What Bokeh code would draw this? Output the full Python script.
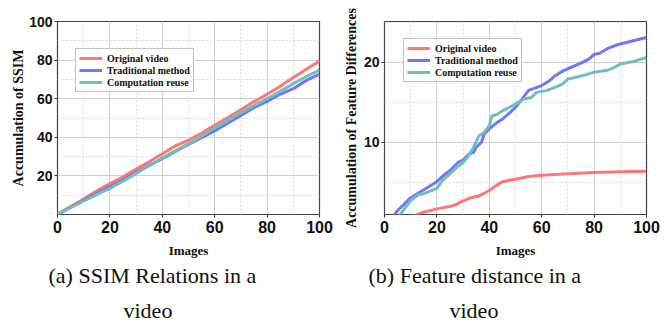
from bokeh.plotting import figure
from bokeh.layouts import row
from bokeh.models import Range1d, FixedTicker, Legend, LegendItem, Title
from bokeh.embed import file_html
from bokeh.resources import INLINE

# ---------------- data ----------------
ssim_x = [0, 5, 10, 15, 20, 25, 30, 35, 40, 45, 50, 55, 60, 65, 70, 75, 80, 85, 90, 95, 100]
ssim_original = [0, 4.0, 8.0, 12.3, 16.0, 19.5, 23.5, 27.3, 31.5, 35.5, 38.5, 42.2, 46.2, 50.2, 54.3, 58.5, 62.3, 66.5, 71.0, 75.3, 79.5]
ssim_traditional = [0, 3.8, 7.3, 11.0, 14.4, 18.0, 21.8, 25.5, 28.9, 32.7, 36.3, 39.8, 43.3, 47.3, 51.3, 55.3, 58.6, 62.3, 65.2, 69.5, 72.8]
ssim_reuse = [0, 3.5, 7.0, 10.3, 13.5, 17.3, 21.2, 25.3, 29.4, 33.0, 36.7, 40.7, 45.0, 49.0, 52.7, 56.5, 60.0, 63.8, 67.8, 71.5, 74.8]

feat_orig_x = [11, 15, 20, 25, 27, 30, 33, 36, 40, 43, 45, 50, 55, 60, 70, 80, 90, 100]
feat_original = [0.8, 1.3, 1.7, 2.0, 2.2, 2.7, 3.1, 3.3, 4.0, 4.7, 5.1, 5.4, 5.75, 5.9, 6.1, 6.25, 6.35, 6.4]

feat_trad_x = [3, 5, 10, 15, 20, 23, 25, 28, 30, 32, 34, 35, 37, 38, 40, 43, 45, 48, 50, 52, 55, 60, 63, 65, 68, 70, 75, 78, 80, 82, 85, 88, 90, 95, 100]
feat_traditional = [0.6, 1.5, 3.1, 4.1, 5.1, 6.0, 6.5, 7.5, 7.8, 8.5, 8.75, 9.4, 10.0, 11.0, 11.7, 12.5, 12.9, 13.75, 14.4, 15.2, 16.5, 17.1, 17.7, 18.3, 18.9, 19.2, 19.9, 20.4, 21.0, 21.1, 21.7, 22.1, 22.3, 22.7, 23.1]

feat_reuse_x = [5, 6, 10, 13, 15, 20, 22, 25, 28, 30, 32, 34, 36, 38, 40, 41, 43, 45, 48, 50, 53, 56, 58, 62, 66, 68, 70, 75, 80, 85, 88, 90, 95, 100]
feat_reuse = [0.6, 1.0, 2.75, 3.5, 3.6, 4.25, 5.2, 6.1, 7.0, 7.5, 8.3, 9.4, 10.8, 11.25, 12.1, 13.3, 13.5, 13.95, 14.45, 14.8, 15.4, 15.6, 16.25, 16.5, 17.0, 17.3, 17.9, 18.3, 18.75, 19.0, 19.4, 19.8, 20.1, 20.6]

series_names = ["Original video", "Traditional method", "Computation reuse"]
x_ticks = [0, 20, 40, 60, 80, 100]
x_minor = [10, 30, 50, 70, 90]
ssim_y_ticks = [20, 40, 60, 80, 100]
ssim_y_minor = [10, 30, 50, 70, 90]
feat_y_ticks = [10, 20]
feat_y_minor = [5, 15, 25]

COLORS = ["#ff7676", "#7474ff", "#70c0b8"]
SERIF = "Liberation Serif"
SANS = "Liberation Sans"


def style(p, yticks, yminor, ylabel, ylabel_standoff):
    p.xaxis.ticker = FixedTicker(ticks=x_ticks, minor_ticks=x_minor)
    p.yaxis.ticker = FixedTicker(ticks=yticks, minor_ticks=yminor)
    for ax in (p.xaxis[0], p.yaxis[0]):
        ax.major_label_text_font = SANS
        ax.major_label_text_font_style = "bold"
        ax.major_label_text_color = "#111111"
        ax.axis_line_color = None
        ax.major_tick_out = 3
        ax.major_tick_in = 0
        ax.major_tick_line_color = "#333333"
        ax.minor_tick_line_color = None
        ax.axis_label_text_font = SERIF
        ax.axis_label_text_font_style = "bold"
        ax.axis_label_text_color = "#111111"
    p.xaxis.major_label_text_font_size = "16px"
    p.yaxis.major_label_text_font_size = "14px"
    p.xaxis.axis_label = "Images"
    p.xaxis.axis_label_text_font_size = "13px"
    p.xaxis.major_label_standoff = 2
    p.xaxis.axis_label_standoff = 7
    p.yaxis.axis_label = ylabel
    p.yaxis.axis_label_text_font_size = "14px"
    p.yaxis.major_label_standoff = 1
    p.yaxis.axis_label_standoff = ylabel_standoff
    for g in (p.xgrid[0], p.ygrid[0]):
        g.grid_line_color = "#cfcfcf"
        g.grid_line_width = 1
        g.minor_grid_line_color = "#dadada"
        g.minor_grid_line_dash = "2 2"
    p.outline_line_color = "#444444"
    p.outline_line_width = 1.2
    p.background_fill_color = "white"
    p.border_fill_color = "white"


def add_legend(p, renderers, loc):
    items = [LegendItem(label=n, renderers=[r]) for n, r in zip(series_names, renderers)]
    lg = Legend(items=items, location=loc)
    lg.label_text_font = SERIF
    lg.label_text_font_style = "bold"
    lg.label_text_font_size = "10px"
    lg.label_text_color = "#111111"
    lg.glyph_width = 23
    lg.glyph_height = 12
    lg.label_height = 12
    lg.label_standoff = 5
    lg.spacing = 0
    lg.padding = 3
    lg.margin = 0
    lg.border_line_color = "#888888"
    lg.border_line_width = 1
    lg.background_fill_alpha = 1
    p.add_layout(lg, "center")


def add_caption(p, line1, off1, line2, off2):
    for text, off, so in ((line1, off1, 0), (line2, off2, 16)):
        t = Title(text=text, align="left", offset=off, text_font=SERIF,
                  text_font_size="22px", text_font_style="normal",
                  text_color="#111111", standoff=so)
        p.add_layout(t, "below")


# ---------------- panel (a) ----------------
p1 = figure(frame_width=262, frame_height=193, x_range=Range1d(0, 100), y_range=Range1d(0, 100),
            output_backend="svg", toolbar_location=None,
            min_border_left=57, min_border_right=15, min_border_top=21, min_border_bottom=112)
style(p1, ssim_y_ticks, ssim_y_minor, "Accumulation of SSIM", 0)
r1 = [
    p1.line(ssim_x, ssim_original, line_color=COLORS[0], line_width=3),
    p1.line(ssim_x, ssim_traditional, line_color=COLORS[1], line_width=3),
    p1.line(ssim_x, ssim_reuse, line_color=COLORS[2], line_width=3),
]
add_legend(p1, r1, (18, 122))
add_caption(p1, "(a) SSIM Relations in a", -9, "video", 66)

# ---------------- panel (b) ----------------
p2 = figure(frame_width=262, frame_height=193, x_range=Range1d(0, 100), y_range=Range1d(1, 25.1),
            output_backend="svg", toolbar_location=None,
            min_border_left=50, min_border_right=22, min_border_top=21, min_border_bottom=112)
style(p2, feat_y_ticks, feat_y_minor, "Accumulation of Feature Differences", 2)
r2 = [
    p2.line(feat_orig_x, feat_original, line_color=COLORS[0], line_width=3),
    p2.line(feat_trad_x, feat_traditional, line_color=COLORS[1], line_width=3),
    p2.line(feat_reuse_x, feat_reuse, line_color=COLORS[2], line_width=3),
]
add_legend(p2, r2, (19, 132))
add_caption(p2, "(b) Feature distance in a", -16, "video", 65)

layout = row(p1, p2)
open("out.html", "w").write(file_html(layout, INLINE))
